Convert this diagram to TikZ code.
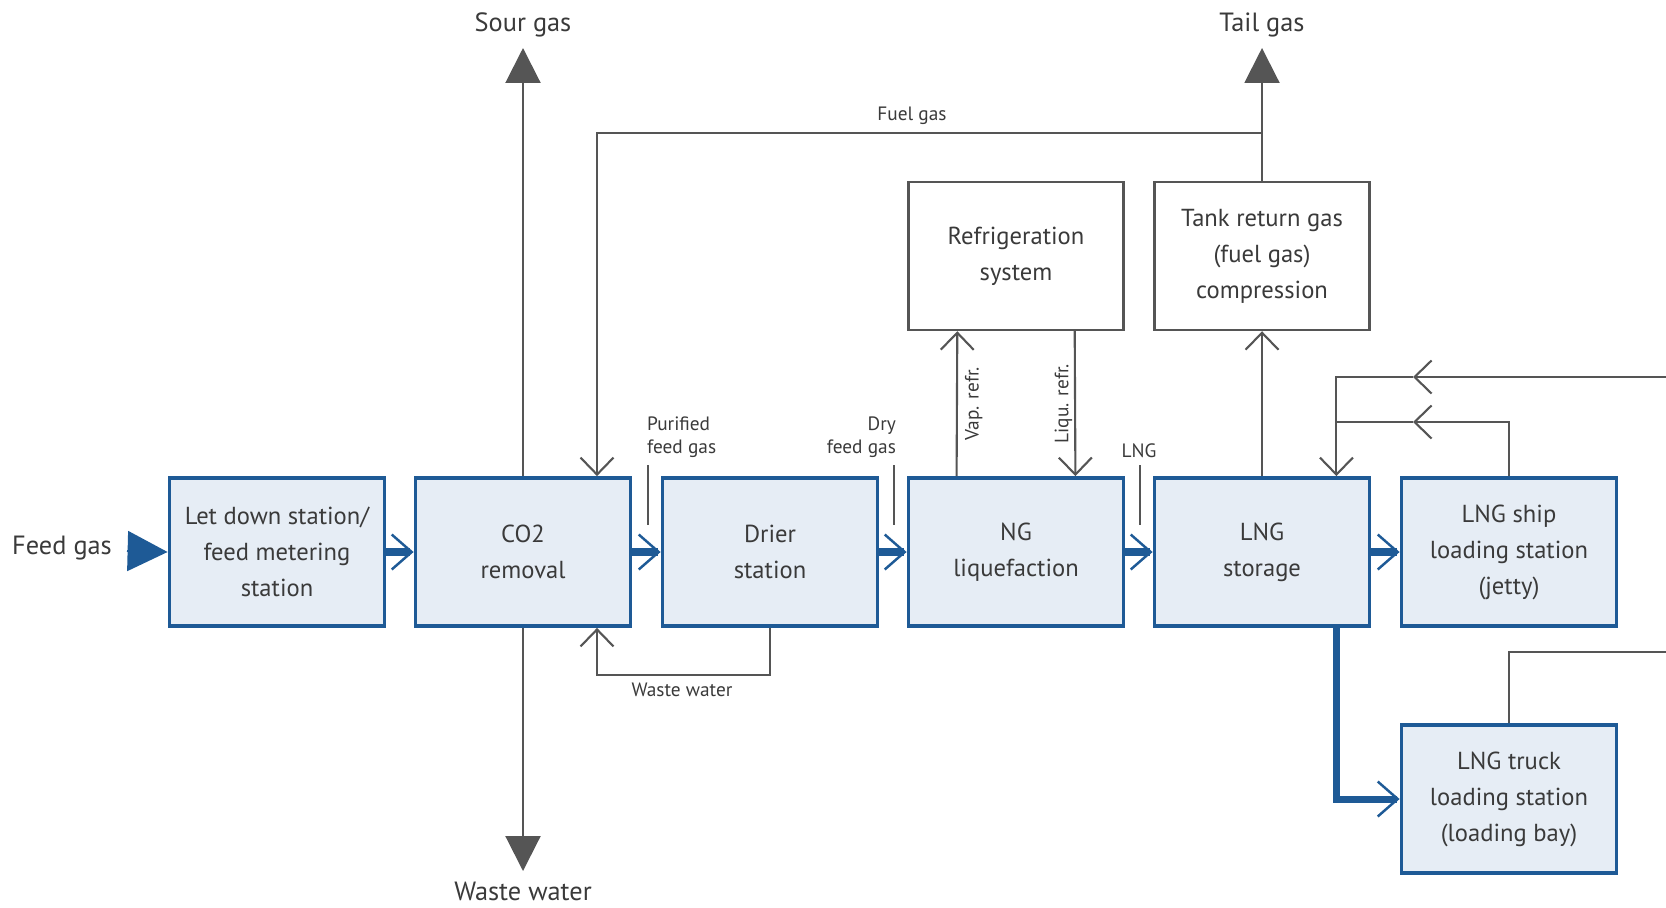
\documentclass[tikz,border=0pt]{standalone}
\usepackage{fontspec}
\setmainfont{PT Sans}
\usepackage{tikz}
\usetikzlibrary{arrows.meta,positioning,calc}
\definecolor{flowblue}{HTML}{1E5A96}
\definecolor{boxfill}{HTML}{E6EDF5}
\definecolor{lgray}{HTML}{555555}
\definecolor{tgray}{HTML}{3A3A3A}

\tikzset{
  unit/.style={draw=flowblue, line width=2.2pt, fill=boxfill, text=tgray,
               minimum width=4.3cm, minimum height=2.96cm, align=center,
               font=\fontsize{14}{20.5}\selectfont},
  aux/.style={draw=lgray, line width=1.4pt, fill=white, text=tgray,
              minimum width=4.3cm, minimum height=2.96cm, align=center,
              font=\fontsize{14}{20.5}\selectfont},
  barb/.tip={Straight Barb[length=0.34cm, width=0.66cm, line width=1.2pt]},
  mainflow/.style={draw=flowblue, line width=4pt, -{Straight Barb[length=0.4cm, width=0.7cm, line width=1.4pt]}},
  gline/.style={draw=lgray, line width=1.2pt},
  gflow/.style={gline, -barb},
  outflow/.style={gline, -{Triangle[length=0.7cm, width=0.7cm]}},
  biglabel/.style={text=tgray, inner sep=6pt, font=\fontsize{15}{18}\selectfont},
  smalllabel/.style={text=tgray, inner sep=1pt, font=\fontsize{11}{13.5}\selectfont},
  tickline/.style={draw=lgray, line width=0.8pt},
}

\begin{document}
\begin{tikzpicture}[x=0.02cm, y=-0.02cm]
  \useasboundingbox (0,0) rectangle (1666,907);

  % process chain
  \node[unit] (LD)    at (277,552)  {Let down station/\\feed metering\\station};
  \node[unit] (CO2)   at (523,552)  {CO2\\removal};
  \node[unit] (drier) at (770,552)  {Drier\\station};
  \node[unit] (NG)    at (1016,552) {NG\\liquefaction};
  \node[unit] (LNGs)  at (1262,552) {LNG\\storage};
  \node[unit] (ship)  at (1509,552) {LNG ship\\loading station\\(jetty)};
  \node[unit] (truck) at (1509,799) {LNG truck\\loading station\\(loading bay)};

  % auxiliary units
  \node[aux] (refr) at (1016,256) {Refrigeration\\system};
  \node[aux] (tank) at (1262,256) {Tank return gas\\(fuel gas)\\compression};

  % inputs and outputs
  \node[biglabel] (feed) at (62,548) {Feed gas};
  \coordinate (fin) at (127,551);
  \node[biglabel, anchor=south] (sour) at (523,48) {Sour gas};
  \node[biglabel, anchor=south] (tail) at (1262,48) {Tail gas};
  \node[biglabel, anchor=north] (waste) at (523,871) {Waste water};

  \draw[draw=flowblue, line width=1pt, fill=flowblue,
        -{Triangle[length=0.8cm, width=0.8cm]}] (fin) -- (LD.west);

  % main flow
  \draw[mainflow] (LD.east) -- (CO2.west);
  \draw[mainflow] (CO2.east) -- (drier.west);
  \draw[mainflow] (drier.east) -- (NG.west);
  \draw[mainflow] (NG.east) -- (LNGs.west);
  \draw[mainflow] (LNGs.east) -- (ship.west);
  \draw[mainflow] ($(LNGs.south east)+(-35,0)$) |- (truck.west);

  % stream labels
  \node[smalllabel, anchor=south west, align=left] (pur) at (645,460) {Purified\\feed gas};
  \node[smalllabel, anchor=south east, align=right] (dry) at (898,460) {Dry\\feed gas};
  \node[smalllabel, anchor=south] (lng) at (1139,460) {LNG};
  \draw[tickline] ($(pur.south west)+(3,5)$) -- ++(0,60);
  \draw[tickline] ($(dry.south east)+(-4,5)$) -- ++(0,60);
  \draw[tickline] ($(lng.south)+(1,5)$) -- ++(0,60);

  % sour gas and waste water
  \draw[outflow] (CO2.north) -- (sour.south);
  \draw[outflow] (CO2.south) -- (waste.north);

  % fuel gas return
  \coordinate (fg) at (597,133);
  \draw[gflow] (tank.north) -- (tank.north |- fg) -- (fg) -- (fg |- CO2.north);
  \node[smalllabel, anchor=south] (fuel) at (912,127) {Fuel gas};
  \draw[outflow] (tank.north) -- (tail.south);

  % drier waste water loop
  \coordinate (ww) at (597,675);
  \draw[gflow] (drier.south) |- (ww) -- (ww |- CO2.south);
  \node[smalllabel, anchor=north] (wwl) at (682,681) {Waste water};

  % refrigerant
  \draw[gflow] ($(NG.north west)+(50,0)$) -- ($(refr.south west)+(50,0)$)
    node[smalllabel, midway, right=3pt, rotate=90, anchor=north] (vap) {Vap. refr.};
  \draw[gflow] ($(refr.south east)+(-50,0)$) -- ($(NG.north east)+(-50,0)$)
    node[smalllabel, midway, rotate=90, anchor=south] (liq) {Liqu. refr.};

  % tank return gas
  \draw[gflow] (LNGs.north) -- (tank.south);

  % return lines from the right
  \coordinate (jn) at ($(LNGs.north east)+(-35,0)$);
  \coordinate (rin) at (1666,377);
  \coordinate (m1) at (1413,377);
  \coordinate (m2) at (1413,422);
  \coordinate (rout) at (1666,652);
  \draw[gflow] (rin) -- (m1);
  \draw[gflow] (m1) -| (jn);
  \draw[gflow] (ship.north) |- (m2);
  \draw[gline] (m2) -- (m2 -| jn);
  \draw[gline] (truck.north) |- (rout);
\end{tikzpicture}
\end{document}
